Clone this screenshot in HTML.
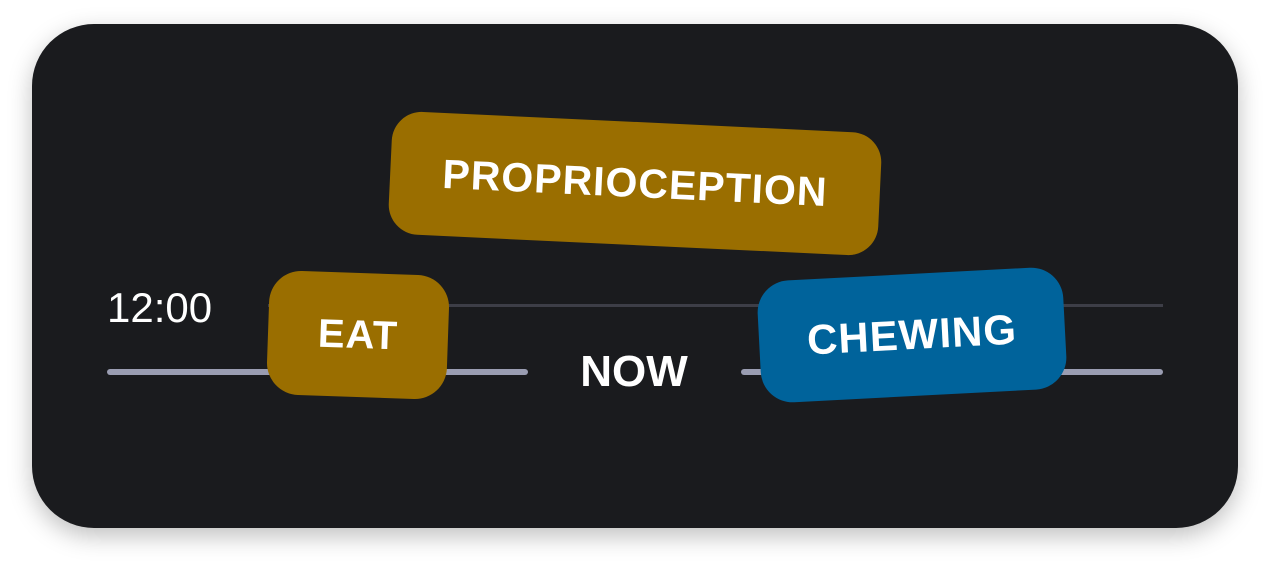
<!DOCTYPE html>
<html><head><meta charset="utf-8"><style>
html,body{margin:0;padding:0;background:#fff;}
body{width:1270px;height:568px;position:relative;overflow:hidden;font-family:"Liberation Sans",sans-serif;}
.card{position:absolute;left:32px;top:24px;width:1206px;height:504px;border-radius:62px;background:#1a1b1e;box-shadow:0 8px 24px rgba(0,0,0,0.25);}
.line{position:absolute;}
.tag{position:absolute;display:flex;align-items:center;justify-content:center;color:#fff;font-weight:bold;letter-spacing:1px;}
.gold{background:#9a6e00;}
.blue{background:#00639b;}
</style></head><body>
<div class="card"></div>
<div class="line" style="left:268px;top:304px;width:895px;height:3px;background:#3d3e47;"></div>
<div class="line" style="left:107px;top:369px;width:421px;height:6px;border-radius:3px;background:#9a9db2;"></div>
<div class="line" style="left:741px;top:369px;width:422px;height:6px;border-radius:3px;background:#9a9db2;"></div>
<div style="position:absolute;left:107px;top:284px;color:#fff;font-size:42px;">12:00</div>
<div style="position:absolute;left:534px;top:347px;width:200px;text-align:center;color:#fff;font-size:44px;font-weight:bold;">NOW</div>
<div class="tag gold" style="left:390px;top:122px;width:490px;height:123px;border-radius:30px;transform:rotate(2.7deg);font-size:41px;">PROPRIOCEPTION</div>
<div class="tag gold" style="left:268px;top:273px;width:180px;height:124px;border-radius:32px;transform:rotate(2deg);font-size:40px;">EAT</div>
<div class="tag blue" style="left:759px;top:274px;width:306px;height:122px;border-radius:32px;transform:rotate(-3deg);font-size:42px;">CHEWING</div>
</body></html>
